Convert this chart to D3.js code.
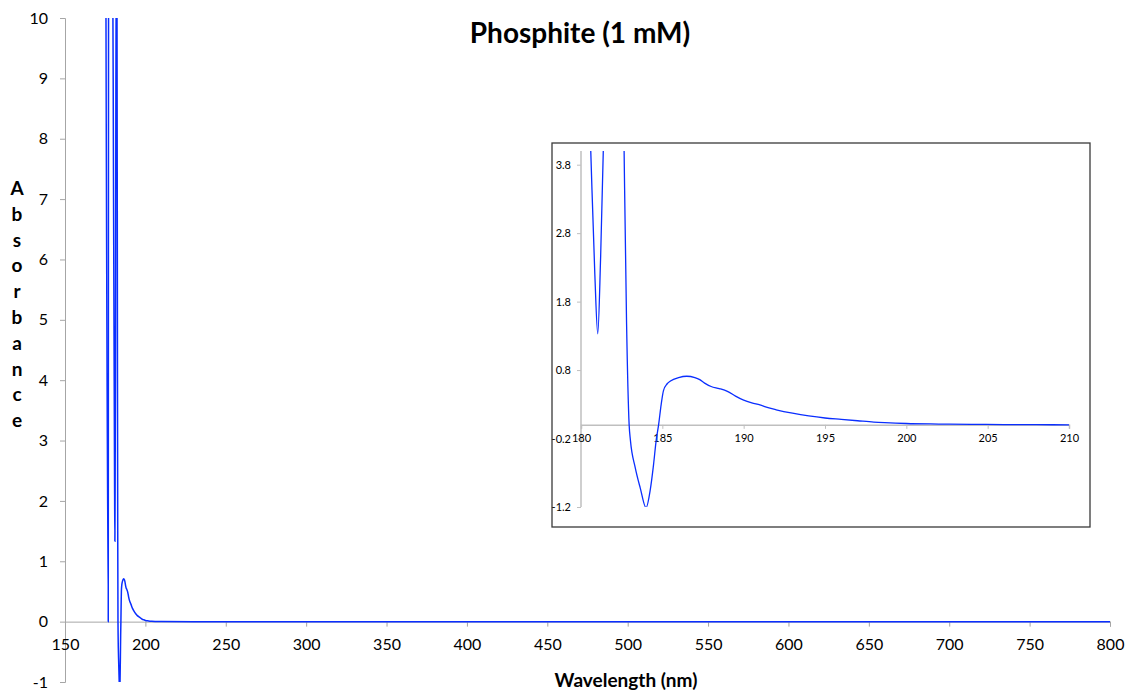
<!DOCTYPE html>
<html>
<head>
<meta charset="utf-8">
<script src="https://cdn.jsdelivr.net/npm/d3@7"></script>
<style>
  body { margin: 0; background: #fff; }
  text { font-family: Lato, "Open Sans", sans-serif; }
</style>
</head>
<body>
<div id="chart"></div>
<script>
// spectrum, wavelength in nm
const wavelength = [175.4, 176.9, 177.1, 178.2, 179.5, 180.2, 180.6, 180.85, 181.03, 181.2, 181.37, 181.6, 182.0, 182.3,
  182.65, 182.8, 182.96, 183.04, 183.33, 183.64, 184.0, 184.25, 184.46, 184.62, 184.77, 184.93, 185.07, 185.3, 185.5,
  186.0, 186.5, 187.0, 187.3, 187.6, 188.0, 188.5, 189.0, 189.5, 190.0, 190.5, 191.0, 191.5, 192, 193, 194, 195, 196,
  197, 198, 199, 200, 202, 204, 206, 208, 210, 230, 300, 400, 500, 600, 700, 800];
const absorbance = [11, 0, 11, 11.5, 12, 7, 4.0, 2.2, 1.33, 2.4, 4.0, 8, 12, 11,
  4.0, 1.5, 0, -0.23, -0.62, -0.92, -1.21, -0.96, -0.58, -0.23, 0, 0.3, 0.5, 0.6, 0.64,
  0.69, 0.71, 0.69, 0.66, 0.61, 0.56, 0.53, 0.49, 0.42, 0.36, 0.32, 0.29, 0.25, 0.22, 0.17, 0.13, 0.10, 0.08,
  0.06, 0.04, 0.03, 0.02, 0.012, 0.007, 0.004, 0.002, 0.001, 0, 0, 0, 0, 0, 0, 0];

const mainXTicks = [150, 200, 250, 300, 350, 400, 450, 500, 550, 600, 650, 700, 750, 800];
const mainYTicks = [-1, 0, 1, 2, 3, 4, 5, 6, 7, 8, 9, 10];
const insetXTicks = [180, 185, 190, 195, 200, 205, 210];
const insetYTicks = [-1.2, -0.2, 0.8, 1.8, 2.8, 3.8];

const points = wavelength.map((w, i) => [w, absorbance[i]]);

const width = 1127, height = 693;
const lineColor = "#0a2eff";
const axisColor = "#a6a6a6";

const svg = d3.select("#chart").append("svg")
  .attr("width", width)
  .attr("height", height);

// main chart
const x = d3.scaleLinear().domain([150, 800]).range([65, 1110]);
const y = d3.scaleLinear().domain([-1, 10]).range([682, 18]);

const defs = svg.append("defs");
defs.append("clipPath").attr("id", "clip-main")
  .append("rect")
  .attr("x", x(150)).attr("y", y(10))
  .attr("width", x(800) - x(150)).attr("height", y(-1) - y(10));

const yAxis = svg.append("g")
  .attr("transform", `translate(${x(150)},0)`)
  .call(d3.axisLeft(y).tickValues(mainYTicks).tickSize(5).tickPadding(12).tickFormat(d => String(d)));
yAxis.select(".domain").attr("stroke", axisColor);
yAxis.selectAll("line").attr("stroke", axisColor);
yAxis.selectAll("text").attr("font-size", "16px").attr("fill", "#000").attr("font-family", "Lato");

const xAxis = svg.append("g")
  .attr("transform", `translate(0,${y(0)})`)
  .call(d3.axisBottom(x).tickValues(mainXTicks).tickSize(5).tickPadding(12).tickFormat(d => String(d)));
xAxis.select(".domain").attr("stroke", axisColor);
xAxis.selectAll("line").attr("stroke", axisColor);
xAxis.selectAll("text").attr("font-size", "16px").attr("fill", "#000").attr("font-family", "Lato");

const line = d3.line()
  .x(d => x(d[0]))
  .y(d => y(d[1]))
  .curve(d3.curveMonotoneX);

svg.append("path")
  .datum(points)
  .attr("clip-path", "url(#clip-main)")
  .attr("fill", "none")
  .attr("stroke", lineColor)
  .attr("stroke-width", 1.5)
  .attr("d", line);

svg.append("text")
  .attr("x", 580)
  .attr("y", 43)
  .attr("text-anchor", "middle")
  .attr("font-size", "28px")
  .attr("font-weight", "bold")
  .text("Phosphite (1 mM)");

svg.append("text")
  .attr("x", 626)
  .attr("y", 687)
  .attr("text-anchor", "middle")
  .attr("font-size", "19px")
  .attr("font-weight", "bold")
  .text("Wavelength (nm)");

const yTitle = svg.append("text")
  .attr("text-anchor", "middle")
  .attr("font-size", "19px")
  .attr("font-weight", "bold");
"Absorbance".split("").forEach((c, i) => {
  yTitle.append("tspan")
    .attr("x", 17)
    .attr("y", 195 + i * 25.8)
    .text(c);
});

// inset
const ix = d3.scaleLinear().domain([180, 210]).range([581, 1069]);
const iy = d3.scaleLinear().domain([-1.2, 4.0]).range([507, 151]);

svg.append("rect")
  .attr("x", 552).attr("y", 143)
  .attr("width", 538).attr("height", 384)
  .attr("fill", "#fff")
  .attr("stroke", "#3a3a3a")
  .attr("stroke-width", 1.3);

defs.append("clipPath").attr("id", "clip-inset")
  .append("rect")
  .attr("x", ix(180)).attr("y", iy(4.0))
  .attr("width", ix(210) - ix(180)).attr("height", iy(-1.2) - iy(4.0));

const iyAxis = svg.append("g")
  .attr("transform", `translate(${ix(180)},0)`)
  .call(d3.axisLeft(iy).tickValues(insetYTicks).tickSize(4).tickPadding(6).tickFormat(d => d.toFixed(1)));
iyAxis.select(".domain").attr("stroke", "#bfbfbf").attr("stroke-width", 1.5)
  .attr("d", `M0,${iy(4.0)}V${iy(-1.2)}`);
iyAxis.selectAll("line").attr("stroke", "#bfbfbf");
iyAxis.selectAll("text").attr("font-size", "11px").attr("fill", "#000").attr("font-family", "Lato");

const ixAxis = svg.append("g")
  .attr("transform", `translate(0,${iy(0)})`)
  .call(d3.axisBottom(ix).tickValues(insetXTicks).tickSize(4).tickPadding(5).tickFormat(d => String(d)));
ixAxis.select(".domain").attr("stroke", "#bfbfbf").attr("stroke-width", 1.5);
ixAxis.selectAll("line").attr("stroke", "#bfbfbf");
ixAxis.selectAll("text").attr("font-size", "11px").attr("fill", "#000").attr("font-family", "Lato");

const insetLine = d3.line()
  .x(d => ix(d[0]))
  .y(d => iy(d[1]))
  .curve(d3.curveMonotoneX);

svg.append("path")
  .datum(points.filter(d => d[0] >= 178 && d[0] <= 210))
  .attr("clip-path", "url(#clip-inset)")
  .attr("fill", "none")
  .attr("stroke", lineColor)
  .attr("stroke-width", 1.3)
  .attr("d", insetLine);
</script>
</body>
</html>
